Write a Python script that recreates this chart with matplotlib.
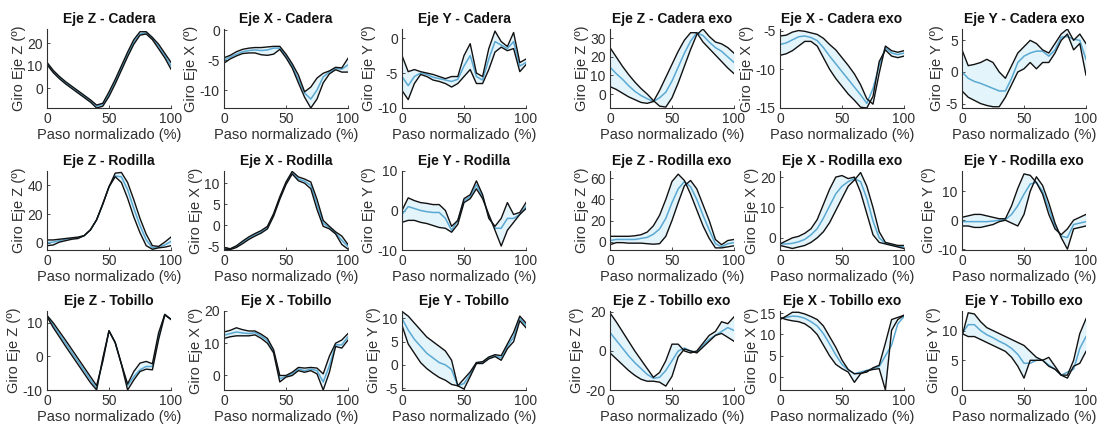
import numpy as np
import matplotlib
matplotlib.use("Agg")
import matplotlib.pyplot as plt

plt.rcParams['font.family'] = ['Liberation Sans', 'DejaVu Sans']
plt.rcParams['axes.unicode_minus'] = False

# paso normalizado (%)
x = np.arange(0, 101, 5)

# ---- sin exo ----
# Cadera
cad_z_m = [11, 7.5, 4.8, 2.5, 0.5, -1.5, -3.5, -5.5, -7.8, -7, -2.5, 3, 9, 15, 20.5, 24, 24.5, 22, 18.5, 14.5, 10]
cad_z_a = [11.5, 8, 5.3, 3, 1, -1, -3, -5, -7.3, -6.5, -1.5, 4, 10, 16, 21.5, 25, 25, 22.5, 19.5, 15.5, 11.5]
cad_z_b = [10.5, 7, 4.3, 2, 0, -2, -4, -6, -8.6, -7.8, -3.5, 2, 8, 14, 19.5, 23.5, 24, 21.5, 17.5, 13.5, 8.5]

cad_x_m = [-5.0, -4.5, -4.0, -3.6, -3.4, -3.3, -3.4, -3.3, -3.0, -3.0, -4.3, -6.0, -8.2, -10.5, -11.5, -10.0, -7.8, -7.0, -6.4, -6.5, -5.8]
cad_x_a = [-4.6, -4.2, -3.6, -3.2, -3.0, -2.9, -2.9, -2.8, -2.7, -2.7, -4.0, -5.6, -7.5, -10.3, -9.5, -8.0, -7.2, -6.8, -6.2, -6.3, -4.7]
cad_x_b = [-5.5, -4.8, -4.3, -3.9, -3.8, -3.8, -4.1, -4.2, -4.0, -3.2, -4.6, -6.3, -8.8, -11.2, -13.0, -11.5, -8.8, -7.3, -6.6, -7.0, -7.0]

cad_y_m = [-5.5, -6.8, -5.5, -5.0, -5.2, -5.6, -5.8, -6.0, -6.2, -5.9, -4.0, -2.5, -5.5, -6.0, -3.0, -0.5, -1.0, -1.5, -0.5, -4.0, -3.5]
cad_y_a = [-2.5, -4.8, -4.5, -4.8, -5.0, -5.2, -5.5, -5.8, -5.5, -5.5, -2.5, -0.8, -5.0, -5.5, -1.5, 1.0, -0.5, -1.2, 0.8, -3.5, -3.0]
cad_y_b = [-7.5, -8.8, -6.5, -5.2, -5.5, -6.0, -6.2, -6.5, -7.0, -6.5, -5.5, -4.5, -6.5, -6.5, -4.5, -2.0, -1.3, -1.8, -1.5, -4.8, -3.8]

# Rodilla
rod_z_m = [0, 0.5, 1.5, 2.5, 3, 3.5, 5, 9, 16, 27, 39, 46.5, 46, 37, 24, 12, 2, -3.5, -3, -1.5, 1]
rod_z_a = [2, 2, 2.5, 3, 3.5, 4, 5, 9, 16, 27, 39, 48.5, 49, 42, 30, 17, 6, -2, -2.5, 0.5, 4]
rod_z_b = [-2, -1.5, 0.5, 1.5, 2.5, 3, 5, 9, 16, 27, 39, 46, 42, 31, 18, 7, -2, -4.5, -3.5, -3, -2]

rod_x_m = [-5.4, -5.6, -5.0, -4.0, -3.0, -2.2, -1.5, -0.5, 2.5, 6.5, 10, 12.5, 11, 10.5, 9.5, 5, 0.5, -0.5, -1.8, -3.5, -5]
rod_x_a = [-5.2, -5.5, -4.8, -3.7, -2.7, -1.9, -1.2, -0.2, 2.8, 6.8, 10.3, 12.8, 11.5, 11, 10.3, 6.2, 1.2, -0.2, -1.5, -2.5, -4.5]
rod_x_b = [-5.6, -5.7, -5.2, -4.3, -3.3, -2.5, -1.8, -0.8, 2.2, 6.2, 9.7, 12.2, 10.6, 10, 8.7, 3.8, -0.2, -0.8, -2.0, -4.5, -5.6]

rod_y_m = [-1, 1, 0.5, 0, -0.3, -0.5, -0.5, -2, -5, -2.5, 2.5, 3.5, 6.5, 3.5, -1.5, -4.5, -4.5, -2, -2, -1, 1]
rod_y_a = [0, 3.2, 2.5, 2, 1.8, 1.5, 1.5, 0, -4, -2.5, 3, 4, 7.5, 4, -2, -4, -2, 2, -1, -0.5, 2]
rod_y_b = [-3, -2.5, -2.5, -3, -3.3, -3.8, -4.3, -4.5, -5.5, -3.5, 2, 3, 5.5, 3, -1, -5, -9, -5, -3, -1, 0.5]

# Tobillo
tob_z_m = [12, 9.3, 6.6, 3.9, 1.2, -1.5, -4.2, -6.9, -9.5, -1, 7.6, 4.1, -2.3, -8.7, -6, -4, -3, -3, 6, 12.5, 11]
tob_z_a = [12.2, 10, 7.4, 4.8, 2.1, -0.6, -3.3, -6, -8.7, -1.5, 7.6, 4.1, -2.3, -8.2, -4.5, -2, -1.5, -2.2, 7, 12.5, 11]
tob_z_b = [11.8, 8.6, 5.8, 3, 0.3, -2.4, -5.1, -7.8, -10, -0.5, 7.6, 4.1, -2.3, -10, -7, -4.5, -3.8, -4, 5, 12.3, 11]

tob_x_m = [12.5, 13, 13.5, 13.2, 13, 13.3, 12.2, 10.8, 7.5, -1, -0.3, 0.5, 2, 1.5, 2, 1.5, -2, 3, 9.5, 9.5, 12]
tob_x_a = [13.5, 14, 14.8, 14.2, 13.8, 13.8, 12.8, 11.5, 8, 0, 0, 1, 2.5, 2.3, 2.5, 2.3, 0.5, 6, 10, 11, 13]
tob_x_b = [11.5, 12, 12.3, 12.3, 12.3, 12.6, 11.5, 10, 7, -2, -0.5, 0, 1.5, 1, 1.5, 0.5, -4.5, 1, 9, 8.5, 11]

tob_y_m = [10, 7.5, 5.5, 4, 2.5, 1.5, 0.5, 0, -1, -4.5, -4, -2, 0.5, 0.5, 1.5, 2, 1.5, 4, 6, 10, 8.5]
tob_y_a = [11.5, 10.5, 9, 7.5, 6, 5, 4, 3, 1, -4.5, -3, -1.5, 0.5, 0.7, 1.7, 2.2, 2, 4.5, 7, 10.5, 9]
tob_y_b = [8.5, 4.5, 2.5, 0.5, -0.8, -1.8, -2.7, -3.3, -4.2, -4.5, -5.2, -2.5, 0.3, 0.3, 1.3, 1.8, 1, 3.5, 5, 9.5, 8]

# ---- con exo ----
cex_z_m = [14.5, 11, 8, 4.5, 1.5, -0.8, -2.5, -4, -2, 1, 7, 14.5, 22, 28.5, 33, 31.5, 28, 25, 23, 20, 17]
cex_z_a = [25, 20, 15, 10.5, 6.5, 3, 0, -3.5, -6.5, -7, -2, 6, 15, 24, 32, 35, 31, 28, 27, 25, 22]
cex_z_b = [4, 2.5, 0.5, -1.5, -3, -4.5, -5, -4, 2, 9, 16, 23, 29, 33, 33, 28, 24.5, 21, 17.5, 14, 11]

cex_x_m = [-6.8, -6.6, -6.2, -5.8, -5.7, -5.9, -6.3, -7.2, -8.3, -9.3, -10.3, -11.3, -12.3, -13.3, -14.4, -12.5, -9.5, -7.2, -7.9, -8.1, -7.9]
cex_x_a = [-5.7, -5.6, -5.2, -5.0, -5.1, -5.3, -5.5, -6.0, -6.8, -7.5, -8.5, -9.5, -10.6, -12.0, -13.8, -14.5, -10.5, -7.0, -7.6, -7.8, -7.6]
cex_x_b = [-8.2, -8.0, -7.6, -7.0, -6.4, -6.4, -7.0, -8.5, -10.0, -11.2, -12.2, -13.2, -14.0, -14.9, -15.0, -13.5, -9.0, -7.5, -8.3, -8.5, -8.3]

cex_y_m = [0, -1, -1.5, -1.8, -2.2, -2.6, -3, -3, -1, 1.5, 2.5, 3, 3.3, 3.3, 2.5, 3.5, 5.5, 5.6, 5.2, 5, 2]
cex_y_a = [3.5, 1, 1.2, 1.5, 2, 1.5, 0, -1, 1, 3, 4, 5, 4.5, 3.5, 3, 4.5, 6, 6.8, 5, 6, 4.5]
cex_y_b = [-3, -4, -4.5, -5, -5.3, -5.5, -5.5, -4, -2, 0, 0.5, 1.5, 0.5, 1.5, 1.5, 3, 5, 6, 3.5, 4.5, -0.5]

rex_z_m = [1, 2, 2, 2, 2, 3, 4, 7, 12, 22, 37, 50, 57, 52, 40, 25, 11, -2, -5, -2, -1]
rex_z_a = [5, 5, 5, 5, 5.5, 6.5, 9, 15, 25, 40, 57, 64, 58, 45, 30, 15, 3, -6, -6, -5, -4]
rex_z_b = [-3, -1, -1, -1.5, -1.5, -1.5, -2, -2.5, -2, 5, 20, 37, 53, 58, 50, 35, 20, 2, -3, 1, 2]

rex_x_m = [-2, -2, -1.8, -1.3, -0.5, 1, 3, 6.5, 10.5, 14.5, 17, 18.5, 19.5, 18.5, 13, 5.5, 0, -1.8, -2.2, -2.8, -3]
rex_x_a = [-2, -1, 0, 0.5, 1.5, 3, 6, 11, 16, 20, 20.5, 19.5, 20, 15, 8, 1, -1.5, -2, -2.5, -3, -3.5]
rex_x_b = [-2.5, -3, -3.5, -3, -2.5, -1.5, 0, 2, 5, 9, 13, 17, 19, 21.5, 17, 10, 2, -1.5, -2, -2.5, -2.5]

rex_y_m = [-0.5, -0.5, -0.5, -0.5, -0.5, -0.3, 0, 0.2, 2, 5, 9, 12.5, 13, 10, 4, -2, -5.5, -6, -1.5, -1, -0.5]
rex_y_a = [1, 1.5, 2, 2, 1.5, 1, 0.5, 0.5, 5, 11, 16, 15.5, 13, 9, 2, -3, -5, -3, 0, 1, 2]
rex_y_b = [-2, -2, -2.5, -2.5, -2, -1.5, -0.5, 0, -1, -2, 2, 10, 15, 12, 6, -1, -6, -10, -3, -2.5, -2]

tex_z_m = [9.5, 5.5, 1.5, -2.5, -6, -9, -12, -14, -13.5, -10, -5, 0, 1.5, 0, -0.5, 3, 6, 8, 10, 12, 10.5]
tex_z_a = [19.5, 15, 10, 5, 0, -4.5, -9, -13.5, -11, -5, 3.5, 3.5, 0, -1, 0, 4, 8, 10, 15, 14, 17.5]
tex_z_b = [-1, -4, -7, -10, -12.5, -14.5, -15.5, -15.5, -16, -18, -13, -3, 1, 0, -1, 2, 5, 8, 9, 7, 5]

tex_x_m = [13.8, 14, 14.3, 14.2, 13.8, 13, 12, 10.2, 7.8, 5.2, 3, 1.7, 0.8, 1.2, 1.6, 2, 2.5, 5, 7.5, 12.5, 14.2]
tex_x_a = [13.5, 14.3, 15.2, 15.2, 14.8, 14.2, 13.5, 12, 9.5, 7, 4, 1.8, 0.8, 0.9, 1.2, 2.2, 2.8, 8, 13.5, 14, 14.5]
tex_x_b = [14, 13.5, 13.2, 13, 12.5, 11.5, 10, 7.5, 5, 3, 2, 1.2, -1.2, 0.8, 1.5, 1.8, 2, -3, 11, 13.5, 14.5]

tex_y_m = [9.5, 11, 11, 10, 9.3, 8.8, 8.2, 7.7, 7, 6, 4.5, 4.5, 5, 5, 4.2, 3.5, 2.5, 3, 3.5, 7, 9]
tex_y_a = [9, 13, 12.8, 11.5, 10.5, 10, 9.5, 9, 8.5, 8, 7.5, 6.5, 5.5, 5, 4, 3.5, 2.5, 2.5, 5, 9.5, 12]
tex_y_b = [9.5, 9, 9, 8.5, 8, 7.5, 7, 6.5, 5.5, 4, 2, 5, 5, 5, 5.5, 4, 2.5, 2, 4, 4.5, 6.5]

titulos = ['Eje Z - Cadera', 'Eje X - Cadera', 'Eje Y - Cadera',
           'Eje Z - Cadera exo', 'Eje X - Cadera exo', 'Eje Y - Cadera exo',
           'Eje Z - Rodilla', 'Eje X - Rodilla', 'Eje Y - Rodilla',
           'Eje Z - Rodilla exo', 'Eje X - Rodilla exo', 'Eje Y - Rodilla exo',
           'Eje Z - Tobillo', 'Eje X - Tobillo', 'Eje Y - Tobillo',
           'Eje Z - Tobillo exo', 'Eje X - Tobillo exo', 'Eje Y - Tobillo exo']
ejes = ['Z', 'X', 'Y'] * 6

datos = [(cad_z_m, cad_z_a, cad_z_b), (cad_x_m, cad_x_a, cad_x_b), (cad_y_m, cad_y_a, cad_y_b),
         (cex_z_m, cex_z_a, cex_z_b), (cex_x_m, cex_x_a, cex_x_b), (cex_y_m, cex_y_a, cex_y_b),
         (rod_z_m, rod_z_a, rod_z_b), (rod_x_m, rod_x_a, rod_x_b), (rod_y_m, rod_y_a, rod_y_b),
         (rex_z_m, rex_z_a, rex_z_b), (rex_x_m, rex_x_a, rex_x_b), (rex_y_m, rex_y_a, rex_y_b),
         (tob_z_m, tob_z_a, tob_z_b), (tob_x_m, tob_x_a, tob_x_b), (tob_y_m, tob_y_a, tob_y_b),
         (tex_z_m, tex_z_a, tex_z_b), (tex_x_m, tex_x_a, tex_x_b), (tex_y_m, tex_y_a, tex_y_b)]

ylims = [(-8.6, 26.2), (-13, 0.2), (-9.8, 1.3), (-7.5, 35), (-15, -4.8), (-5.7, 6.8),
         (-5, 50), (-5.8, 12.9), (-10, 10), (-8, 67), (-4, 22), (-10.3, 17),
         (-10, 13.5), (-4.5, 20), (-5.4, 11.6), (-19.5, 20.5), (-3, 15.5), (0, 13.3)]
yticks = [[0, 10, 20], [-10, -5, 0], [-10, -5, 0], [0, 10, 20, 30], [-15, -10, -5], [-5, 0, 5],
          [0, 20, 40], [-5, 0, 5, 10], [-10, 0, 10], [0, 20, 40, 60], [0, 10, 20], [-10, 0, 10],
          [-10, 0, 10], [0, 10, 20], [-5, 0, 5, 10], [-20, 0, 20], [0, 5, 10, 15], [0, 5, 10]]

W, H = 1099, 428
col_left = [47, 224, 402, 610, 780, 962]
row_top = [29, 171, 311]
aw, ah = 124, 79

azul = '#5aa9d3'
relleno = '#e4f4fb'
gris = '#303030'

fig = plt.figure(figsize=(W / 100, H / 100), dpi=100)
for i in range(18):
    r = i // 6
    c = i % 6
    ax = fig.add_axes([col_left[c] / W, 1 - (row_top[r] + ah) / H, aw / W, ah / H])
    m, a, b = datos[i]
    ax.fill_between(x, a, b, color=relleno, lw=0)
    ax.plot(x, m, color=azul, lw=1.1)
    ax.plot(x, a, color='#111111', lw=1.0)
    ax.plot(x, b, color='#111111', lw=1.0)
    ax.set_xlim(0, 100)
    ax.set_ylim(*ylims[i])
    ax.set_xticks([0, 50, 100])
    ax.set_yticks(yticks[i])
    for s in ['top', 'right']:
        ax.spines[s].set_visible(False)
    for s in ['left', 'bottom']:
        ax.spines[s].set_color(gris)
        ax.spines[s].set_linewidth(0.8)
    ax.tick_params(direction='in', length=2.5, width=0.6, colors=gris, labelsize=10, pad=3)
    ax.set_title(titulos[i], fontsize=10, fontweight='bold', color='#111111', pad=4)
    ax.set_xlabel('Paso normalizado (%)', fontsize=10.5, color=gris, labelpad=1)
    ax.set_ylabel('Giro Eje %s (º)' % ejes[i], fontsize=10.5, color=gris, labelpad=1)

fig.savefig('out.png', dpi=100)
